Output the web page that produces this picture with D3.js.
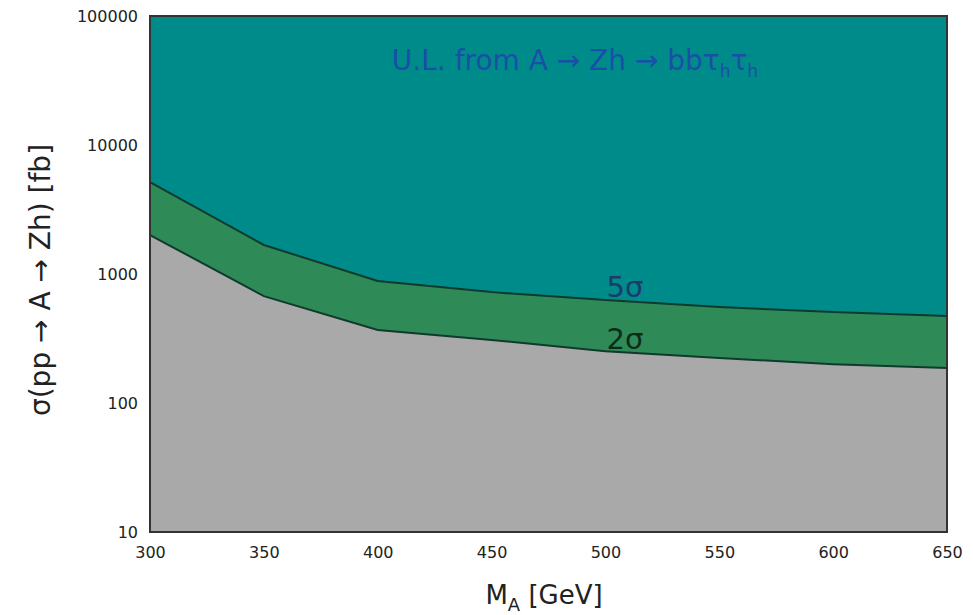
<!DOCTYPE html>
<html>
<head>
<meta charset="utf-8">
<script src="https://cdn.jsdelivr.net/npm/d3@7"></script>
<style>
  html, body { margin: 0; padding: 0; background: #ffffff; }
  svg text { font-family: "DejaVu Sans", sans-serif; }
</style>
</head>
<body>
<svg id="chart" width="973" height="615"></svg>
<script>
// Pseudoscalar mass points [GeV]
const masses = [300, 350, 400, 450, 500, 550, 600, 650];
// Cross-section reach [fb] for 2 sigma (exclusion) and 5 sigma (discovery)
const sigma2 = [2005, 674, 368, 308, 252, 223, 200, 187];
const sigma5 = [5160, 1679, 883, 724, 628, 555, 507, 472];
// Axis ticks
const xTicks = [300, 350, 400, 450, 500, 550, 600, 650];
const yTicks = [10, 100, 1000, 10000, 100000];

const svg = d3.select("#chart");
const margin = { left: 150, right: 26, top: 16, bottom: 83 };
const W = 973, H = 615;

const x = d3.scaleLinear().domain([300, 650]).range([margin.left, W - margin.right]);
const y = d3.scaleLog().domain([10, 100000]).range([H - margin.bottom, margin.top]);

const rows = masses.map((m, i) => ({ m, lo: sigma2[i], hi: sigma5[i] }));

const g = svg.append("g");

// Region above the 5 sigma curve
g.append("path")
  .datum(rows)
  .attr("fill", "#008b8b")
  .attr("d", d3.area().x(d => x(d.m)).y0(y(100000)).y1(d => y(d.hi)));

// Band between 2 sigma and 5 sigma
g.append("path")
  .datum(rows)
  .attr("fill", "#2e8b57")
  .attr("d", d3.area().x(d => x(d.m)).y0(d => y(d.lo)).y1(d => y(d.hi)));

// Region below the 2 sigma curve
g.append("path")
  .datum(rows)
  .attr("fill", "#a9a9a9")
  .attr("d", d3.area().x(d => x(d.m)).y0(y(10)).y1(d => y(d.lo)));

// Boundary lines
const line = key => d3.line().x(d => x(d.m)).y(d => y(d[key]));
g.append("path").datum(rows).attr("fill", "none").attr("stroke", "#103a2c")
  .attr("stroke-width", 2).attr("d", line("hi"));
g.append("path").datum(rows).attr("fill", "none").attr("stroke", "#103a2c")
  .attr("stroke-width", 2).attr("d", line("lo"));

// Frame
svg.append("rect")
  .attr("x", margin.left).attr("y", margin.top)
  .attr("width", W - margin.left - margin.right)
  .attr("height", H - margin.top - margin.bottom)
  .attr("fill", "none").attr("stroke", "#333333").attr("stroke-width", 2);

// Axes (labels only, no tick marks)
const xAxis = svg.append("g")
  .attr("transform", `translate(0,${H - margin.bottom})`)
  .call(d3.axisBottom(x).tickValues(xTicks).tickSize(0).tickPadding(15).tickFormat(d3.format("d")));
xAxis.select(".domain").remove();
xAxis.selectAll("text").attr("font-size", 16).attr("fill", "#222");

const yAxis = svg.append("g")
  .attr("transform", `translate(${margin.left},0)`)
  .call(d3.axisLeft(y).tickValues(yTicks).tickSize(0).tickPadding(12).tickFormat(d3.format("d")));
yAxis.select(".domain").remove();
yAxis.selectAll("text").attr("font-size", 16).attr("fill", "#222");

// Axis titles
const xt = svg.append("text")
  .attr("x", 544)
  .attr("y", 604)
  .attr("text-anchor", "middle")
  .attr("font-size", 26)
  .attr("fill", "#222");
xt.append("tspan").text("M");
xt.append("tspan").attr("font-size", 18).attr("dy", 7).text("A");
xt.append("tspan").attr("dy", -7).text(" [GeV]");

svg.append("text")
  .attr("transform", `translate(50,${(margin.top + H - margin.bottom) / 2 + 6}) rotate(-90)`)
  .attr("text-anchor", "middle")
  .attr("font-size", 28)
  .attr("fill", "#222")
  .text("σ(pp → A → Zh) [fb]");

// Region annotations
const ul = svg.append("text")
  .attr("x", 575).attr("y", 70)
  .attr("text-anchor", "middle")
  .attr("font-size", 28)
  .attr("fill", "#1a4fa8");
ul.append("tspan").text("U.L. from A → Zh → bbτ");
ul.append("tspan").attr("font-size", 17).attr("dy", 7).text("h");
ul.append("tspan").attr("dy", -7).text("τ");
ul.append("tspan").attr("font-size", 17).attr("dy", 7).text("h");

svg.append("text")
  .attr("x", 625).attr("y", 297)
  .attr("text-anchor", "middle")
  .attr("font-size", 29)
  .attr("fill", "#1b3b6b")
  .text("5σ");

svg.append("text")
  .attr("x", 625).attr("y", 349)
  .attr("text-anchor", "middle")
  .attr("font-size", 29)
  .attr("fill", "#0e2a1a")
  .text("2σ");
</script>
</body>
</html>
